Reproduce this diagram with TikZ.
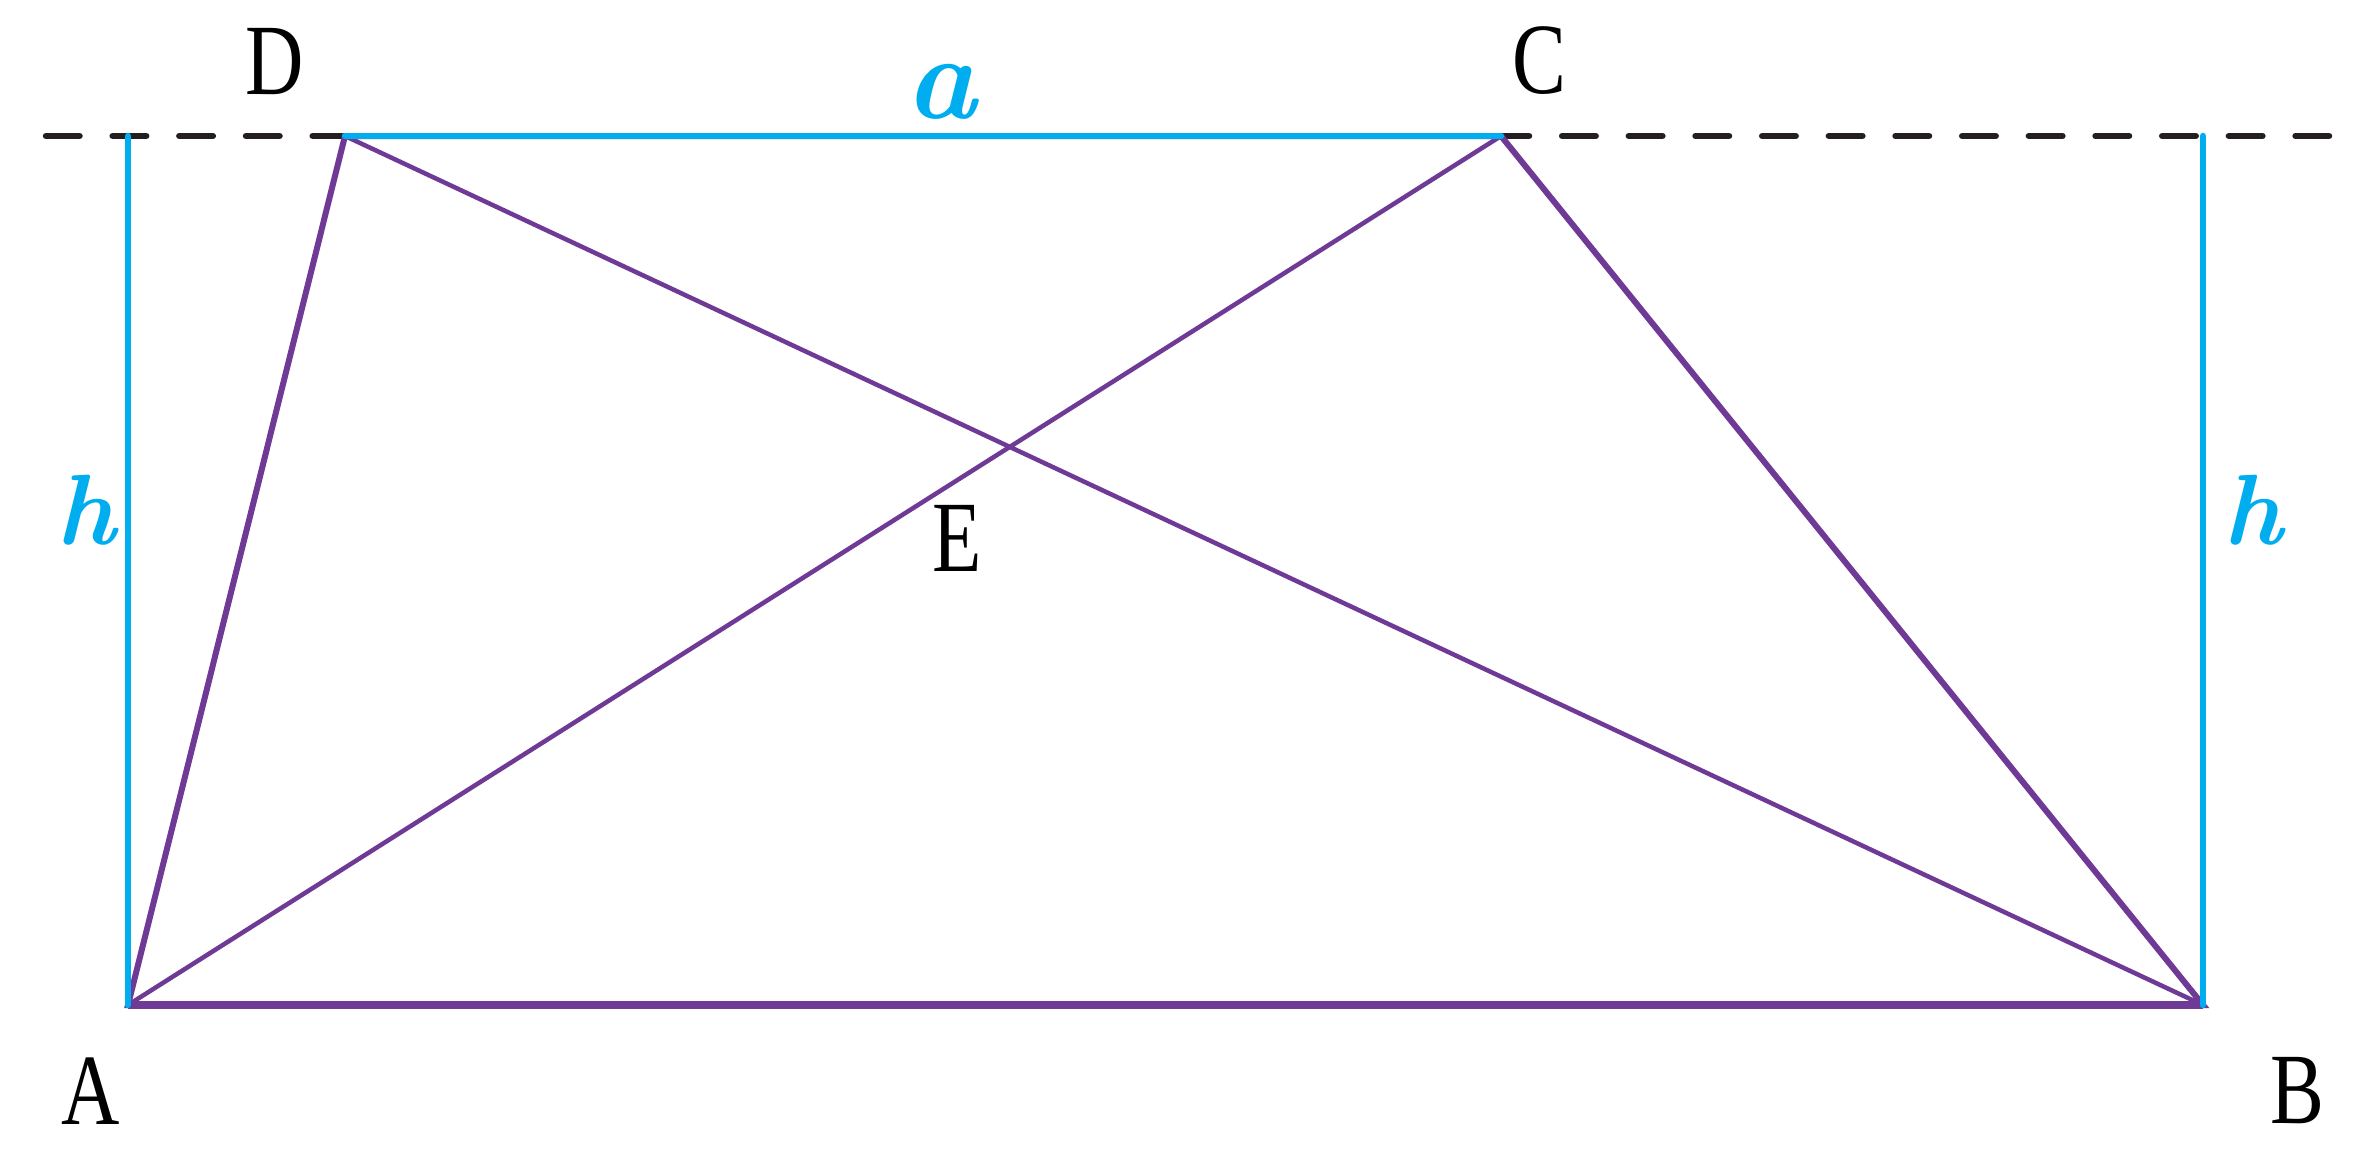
\documentclass[tikz,border=0pt]{standalone}
\usepackage{fontspec}
\newfontfamily\labfont[FakeStretch=0.8]{Liberation Serif}
\definecolor{purp}{HTML}{6F3996}
\definecolor{skyb}{HTML}{00AEEF}
\definecolor{dashc}{HTML}{231F20}
\tikzset{
  lab/.style={inner sep=0pt, text=black, font=\labfont\fontsize{101}{101}\selectfont},
  sym/.style={inner sep=0pt, text=skyb, font=\bfseries\itshape\fontsize{#1}{#1}\selectfont},
  guide/.style={dashc, line width=6.5pt, line cap=round, dash pattern=on 33.5pt off 33.17pt},
  side/.style={purp, line width=6pt, miter limit=20},
  diag/.style={purp, line width=4.5pt},
  meas/.style={skyb, line width=6.5pt, line cap=round},
}
\begin{document}
\begin{tikzpicture}[x=1pt,y=-1pt]
\useasboundingbox (0,0) rectangle (2373,1148);
\coordinate (A) at (128,1005);
\coordinate (B) at (2203,1005);
\coordinate (C) at (1501,136);
\coordinate (D) at (345,136);
\coordinate (L) at (46,136);
\coordinate (R) at (2329,136);
\coordinate (Atop) at (128,136);
\coordinate (Btop) at (2203,136);
% dashed guide line
\draw[guide] (L) -- (D);
\draw[guide, dash phase=5.5pt] (C) -- (R);
% trapezoid
\draw[side] (A) -- (B) -- (C) -- (D) -- cycle;
\draw[purp, line width=7.5pt] (A) -- (B);
\draw[diag] (A) -- (C);
\draw[diag] (D) -- (B);
% measures
\draw[meas] (D) -- (C);
\draw[meas] (Atop) -- (A);
\draw[meas] (Btop) -- (B);
% labels
\node[lab] (lD) at (275,61.5) {D};
\node[lab] (lC) at (1539,61) {C};
\node[lab] (lA) at (91,1091) {A};
\node[lab] (lB) at (2297,1091) {B};
\node[lab] (lE) at (957,538) {E};
\node[sym=120] (la) at (941,92) {a};
\node[sym=100] (lh1) at (86,510) {h};
\node[sym=100] (lh2) at (2253,510) {h};
\end{tikzpicture}
\end{document}
